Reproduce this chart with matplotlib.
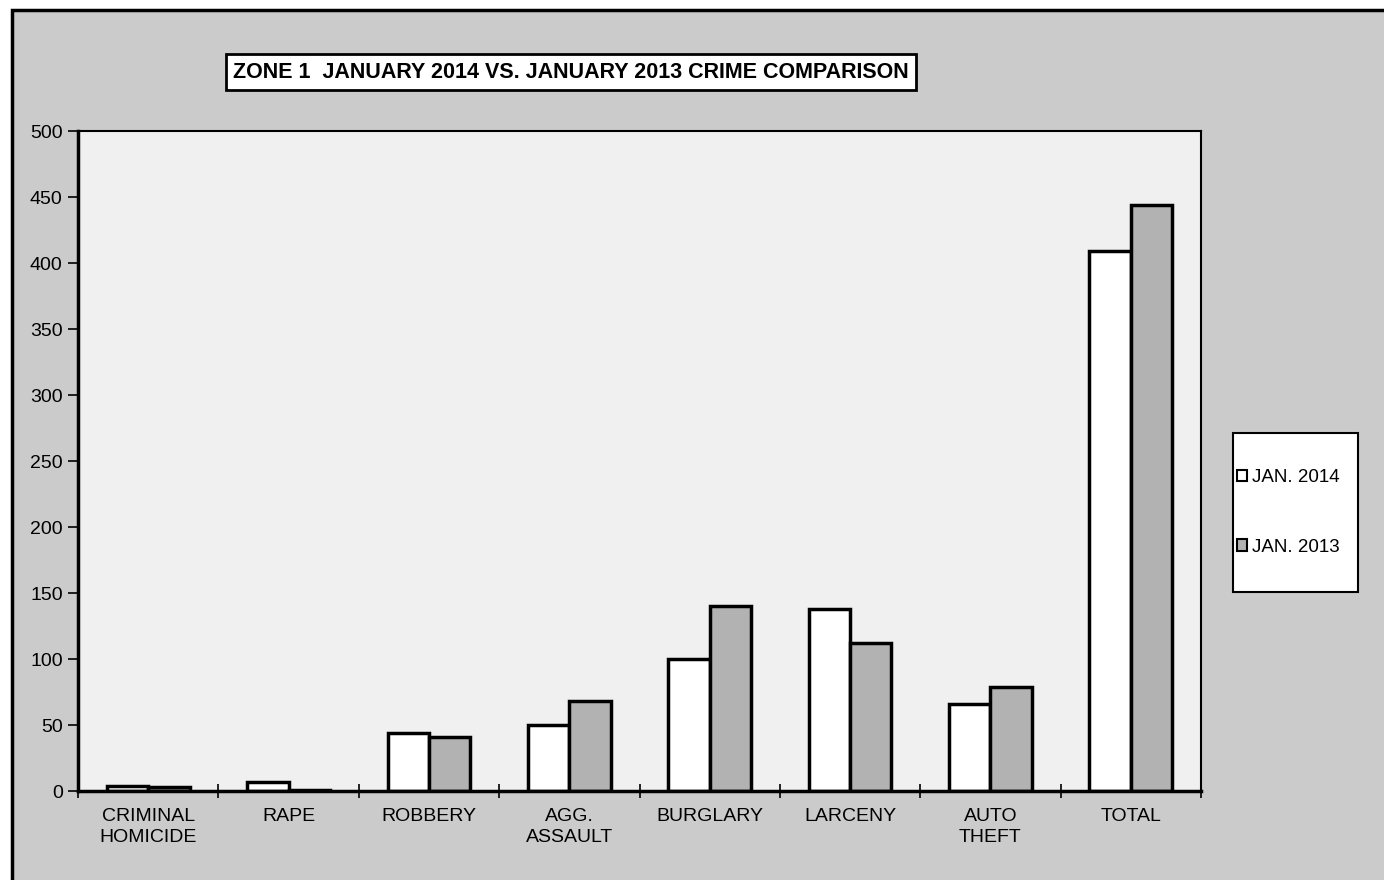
import matplotlib
matplotlib.use("Agg")
import matplotlib.pyplot as plt
import numpy as np
from matplotlib.patches import Rectangle

plt.rcParams['font.family'] = ['Liberation Sans', 'DejaVu Sans']

categories = ["CRIMINAL\nHOMICIDE", "RAPE", "ROBBERY", "AGG.\nASSAULT",
              "BURGLARY", "LARCENY", "AUTO\nTHEFT", "TOTAL"]
jan_2014 = [4, 7, 44, 50, 100, 138, 66, 409]
jan_2013 = [3, 1, 41, 68, 140, 112, 79, 444]
series_labels = ["JAN. 2014", "JAN. 2013"]
title = "ZONE 1  JANUARY 2014 VS. JANUARY 2013 CRIME COMPARISON"

W, H = 1384, 880
fig = plt.figure(figsize=(W / 100, H / 100), dpi=100)
fig.patch.set_facecolor("white")

# grey page background with black top/left frame
bg = Rectangle((12 / W, -0.02), 1.05, 1 - 10 / H + 0.02, transform=fig.transFigure,
               facecolor="#cbcbcb", edgecolor="black", linewidth=2.5, zorder=-10)
fig.patches.append(bg)

ax = fig.add_axes([78 / W, 1 - 791 / H, (1201 - 78) / W, (791 - 131) / H])
ax.set_facecolor("#f0f0f0")

x = np.arange(len(categories))
bw = 0.295
ax.bar(x - bw / 2, jan_2014, bw, color="white", edgecolor="black", linewidth=2.5)
ax.bar(x + bw / 2, jan_2013, bw, color="#b2b2b2", edgecolor="black", linewidth=2.5)

ax.set_xlim(-0.5, len(categories) - 0.5)
ax.set_ylim(0, 500)
ax.set_yticks(np.arange(0, 501, 50))
ax.tick_params(axis="y", labelsize=14, direction="out", length=7, width=1.2, pad=4)

ax.set_xticks(x)
ax.set_xticklabels(categories, fontsize=14, linespacing=1.3)
ax.tick_params(axis="x", length=0, pad=12)
ax.set_xticks(np.arange(-0.5, len(categories), 1), minor=True)
ax.tick_params(axis="x", which="minor", direction="inout", length=10, width=1.2)

for side in ["left", "bottom"]:
    ax.spines[side].set_linewidth(2.5)
for side in ["top", "right"]:
    ax.spines[side].set_linewidth(1.5)

fig.text(571 / W, 1 - 72 / H, title, fontsize=15.5, fontweight="bold", ha="center", va="center",
         bbox=dict(boxstyle="square,pad=0.35", facecolor="white", edgecolor="black", linewidth=2))

# legend box
lg = Rectangle((1233 / W, 1 - 592 / H), (1358 - 1233) / W, (592 - 433) / H,
               transform=fig.transFigure, facecolor="white", edgecolor="black", linewidth=1.5)
fig.patches.append(lg)
handles = [Rectangle((0, 0), 1, 1, facecolor="white", edgecolor="black", linewidth=1.5),
           Rectangle((0, 0), 1, 1, facecolor="#b2b2b2", edgecolor="black", linewidth=1.5)]
leg = fig.legend(handles, series_labels, loc="upper left",
                 bbox_to_anchor=(1237 / W, 1 - 469 / H), fontsize=13.5,
                 frameon=False, handlelength=0.55, handleheight=0.55, handletextpad=0.25,
                 labelspacing=2.8, borderpad=0, borderaxespad=0)

fig.savefig("out.png", dpi=100)
